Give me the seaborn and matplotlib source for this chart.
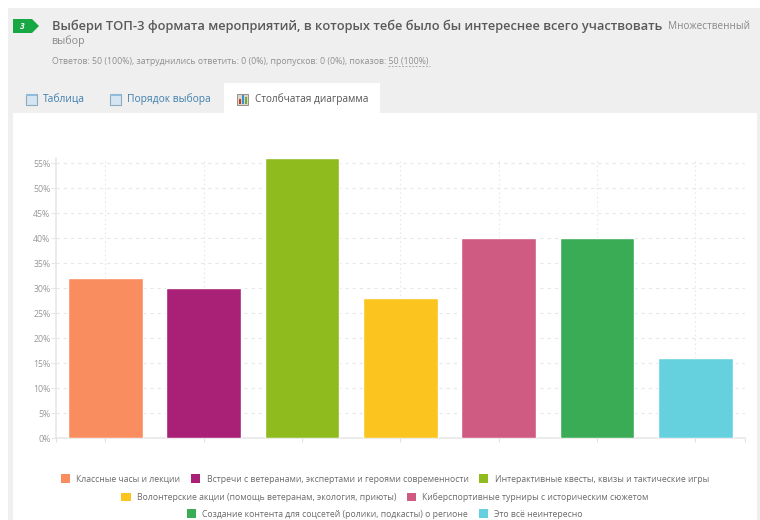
import matplotlib
matplotlib.use("Agg")
import matplotlib.pyplot as plt
import seaborn as sns
import pandas as pd
from matplotlib.patches import Rectangle, Polygon

categories = [
    "Классные часы и лекции",
    "Встречи с ветеранами, экспертами и героями современности",
    "Интерактивные квесты, квизы и тактические игры",
    "Волонтерские акции (помощь ветеранам, экология, приюты)",
    "Киберспортивные турниры с историческим сюжетом",
    "Создание контента для соцсетей (ролики, подкасты) о регионе",
    "Это всё неинтересно",
]
values = [32, 30, 56, 28, 40, 40, 16]
colors = ["#F98D5F", "#A82177", "#8FBB1E", "#FCC41E", "#CF5A82", "#3AAC55", "#66D1DE"]
y_ticks = list(range(0, 60, 5))
title = "Выбери ТОП-3 формата мероприятий, в которых тебе было бы интереснее всего участвовать"
subtitle = "Ответов: 50 (100%), затруднились ответить: 0 (0%), пропусков: 0 (0%), показов: 50 (100%)"

sns.set_theme(style="white")
plt.rcParams["font.family"] = ["Open Sans", "DejaVu Sans"]

W, H = 760, 520
fig = plt.figure(figsize=(W / 100, H / 100), dpi=100, facecolor="white")

bg = fig.add_axes([0, 0, 1, 1], zorder=0)
bg.set_xlim(0, W)
bg.set_ylim(H, 0)
bg.axis("off")
bg.add_patch(Rectangle((8, 8), W - 8, H - 8, fc="#EFEFEF", ec="none"))
bg.add_patch(Rectangle((13, 113), 744, H - 113, fc="white", ec="none"))
bg.add_patch(Rectangle((224, 83), 156, 31, fc="white", ec="none"))
bg.add_patch(Polygon([(13, 19), (32, 19), (39, 26), (32, 33), (13, 33)], fc="#17A844", ec="none"))
bg.text(22, 26.5, "3", color="white", fontsize=6, fontweight="bold", style="italic", ha="center", va="center")

px = 0.72
bg.text(51.5, 26, title, color="#5A5A5A", fontsize=12.85 * px, fontweight="semibold", va="center")
bg.text(668, 26.5, "Множественный", color="#8A8A8A", fontsize=9.95 * px, va="center")
bg.text(51.5, 41, "выбор", color="#8A8A8A", fontsize=10.6 * px, va="center")
bg.text(51.5, 61.5, subtitle, color="#8F8F8F", fontsize=8.75 * px, va="center")
bg.plot([388, 430], [66, 66], color="#AAAAAA", lw=0.7, ls=(0, (2, 1.5)))

for x0, label, col in [(25, "Таблица", "#3E7FAE"), (109, "Порядок выбора", "#3E7FAE")]:
    bg.add_patch(Rectangle((x0 + 0.5, 93.5), 11, 11, fc="#D5E6F2", ec="#8FA9BC", lw=0.8))
    bg.add_patch(Rectangle((x0 + 0.5, 93.5), 11, 2.5, fc="#8FBBDC", ec="none"))
    bg.text(x0 + 18, 99.5, label, color=col, fontsize=10.3 * px, va="center")
bg.add_patch(Rectangle((237, 93.5), 11, 11, fc="#DDD6CC", ec="#9A8F85", lw=0.7))
for xb, hb, cb in [(238.5, 5, "#C0392B"), (241.5, 9, "#3B8FD0"), (244.5, 7, "#6BAF35")]:
    bg.add_patch(Rectangle((xb, 104 - hb), 2.4, hb, fc=cb, ec="none"))
bg.text(255, 99.5, "Столбчатая диаграмма", color="#555555", fontsize=10.05 * px, va="center")

# plot area in pixels: x 56..744.5, y 438..158.4
ax = fig.add_axes([56 / W, 1 - 438 / H, 688.5 / W, 279.6 / H], zorder=2)
ax.patch.set_alpha(0)
df = pd.DataFrame({"category": categories, "value": values})
sns.barplot(data=df, x="category", y="value", hue="category", order=categories,
            hue_order=categories, palette=colors, width=0.76, legend=False,
            saturation=1, ax=ax, zorder=3)
ax.set_xlim(-0.5, 6.5)
ax.set_ylim(0, 56)
ax.set_xlabel("")
ax.set_ylabel("")
ax.set_yticks(y_ticks)
ax.set_yticklabels([f"{v}%" for v in y_ticks], color="#999999", fontsize=8.8 * px)
ax.set_xticks(range(len(categories)))
ax.set_xticklabels([])
ax.set_xticks([-0.5, 6.5], minor=True)
ax.grid(axis="y", color="#E8E8E8", lw=0.8, ls=(0, (3, 3.5)), zorder=0)
ax.grid(axis="x", color="#E8E8E8", lw=0.8, ls=(0, (1.5, 2.5)), zorder=0)
ax.set_axisbelow(True)
for s in ["top", "right"]:
    ax.spines[s].set_visible(False)
for s in ["left", "bottom"]:
    ax.spines[s].set_color("#E6E6E6")
    ax.spines[s].set_linewidth(1.1)
ax.tick_params(axis="y", length=3.5, width=0.8, color="#E6E6E6", pad=0.5, left=True)
ax.tick_params(axis="x", which="both", length=3, width=0.8, color="#E0E0E0", bottom=True)

handles = [Rectangle((0, 0), 1, 1, fc=c, ec="none") for c in colors]
rows = [(479, [0, 1, 2], 385), (497, [3, 4], 385), (514, [5, 6], 384.5)]
for y, idx, cx in rows:
    leg = fig.legend([handles[i] for i in idx], [categories[i] for i in idx],
                     loc="center", bbox_to_anchor=(cx / W, 1 - y / H), ncol=len(idx),
                     frameon=False, fontsize=8.7 * px, handlelength=1.05, handleheight=1.05,
                     handletextpad=0.7, columnspacing=1.25, borderpad=0, labelcolor="#6A6A6A")
    leg.set_zorder(5)

fig.savefig("out.png", dpi=100, facecolor="white")
